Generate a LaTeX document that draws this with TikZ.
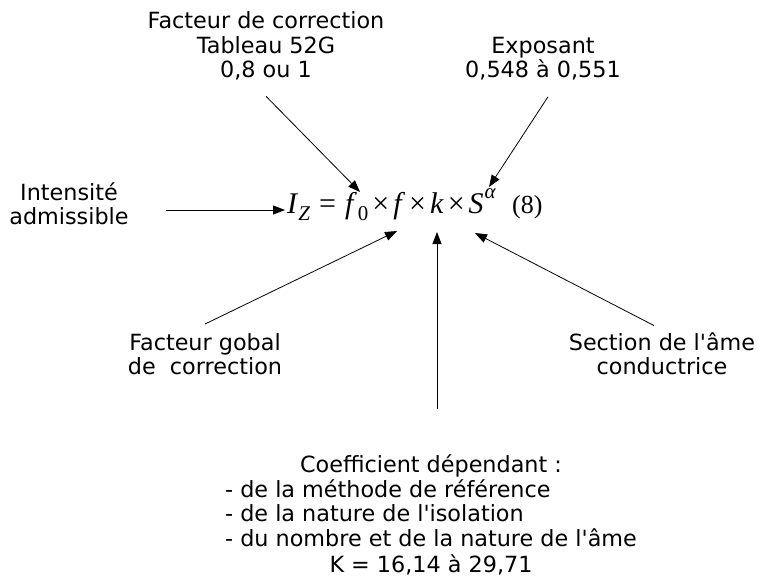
\documentclass[tikz,border=0pt]{standalone}
\usepackage{fontspec}
\newfontfamily\djv{DejaVu Sans}
\newfontfamily\tnr{Liberation Serif}
\usetikzlibrary{arrows.meta}
\newcommand{\subtxt}[1]{{\fontsize{21}{22}\selectfont #1}}
\begin{document}
\begin{tikzpicture}[x=1pt,y=-1pt,
  lbl/.style={align=center,inner sep=0pt,font=\djv\fontsize{22.3}{24.3}\selectfont},
  math/.style={anchor=base west,inner sep=0pt,font=\tnr\fontsize{30}{32}\selectfont},
  arr/.style={-{Triangle[length=12pt,width=9pt]},line width=0.8pt}]
\useasboundingbox (0,0) rectangle (762,577);
% text nodes
\node[lbl] (topL) at (266,46) {Facteur de correction\\Tableau 52G\\0,8 ou 1};
\node[lbl] (topR) at (543,59) {Exposant\\0,548 à 0,551};
\node[lbl] (left) at (69,204) {Intensité\\admissible};
\node[lbl] (botL) at (205,354) {Facteur gobal\\de\ \ correction};
\node[lbl] (botR) at (662,354) {Section de l'âme\\conductrice};
\node[lbl] (coef) at (431,517) {\begin{tabular}{@{}c@{}}Coefficient dépendant :\\
\multicolumn{1}{@{}l@{}}{- de la méthode de référence}\\
\multicolumn{1}{@{}l@{}}{- de la nature de l'isolation}\\
\multicolumn{1}{@{}l@{}}{- du nombre et de la nature de l'âme}\\
K = 16,14 à 29,71\end{tabular}};
% formula
\node[math] (eq) at (287,214) {\textit{I}\raisebox{-6.5pt}{\subtxt{\textit{Z}}}\hspace{9pt}=\hspace{9pt}\textit{f}\hspace{1pt}\raisebox{-6.5pt}{\subtxt{0}}\hspace{4pt}×\hspace{4pt}\textit{f}\hspace{4pt}×\hspace{4pt}\textit{k}\hspace{4pt}×\hspace{4pt}\textit{S}\hspace{1pt}\raisebox{15pt}{\subtxt{\textit{α}}}};
\node[math,font=\tnr\fontsize{26}{30}\selectfont] (eqno) at (512,214) {(8)};
% arrow tips
\coordinate (tF) at (360,192);
\coordinate (tA) at (489,187);
\coordinate (tI) at (285,210);
\coordinate (tG) at (397,231);
\coordinate (tK) at (437,232);
\coordinate (tS) at (475,233);
% arrows
\draw[arr] ([yshift=-16pt]topL.south) -- (tF);
\draw[arr] ([xshift=5pt,yshift=-16pt]topR.south) -- (tA);
\draw[arr] ([xshift=37pt,yshift=-6pt]left.east) -- (tI);
\draw[arr] ([yshift=9pt]botL.north) -- (tG);
\draw[arr] ([xshift=-8pt,yshift=7pt]botR.north) -- (tS);
\draw[arr] (tK |- coef.north) ++(0,-45) -- (tK);
\end{tikzpicture}
\end{document}
